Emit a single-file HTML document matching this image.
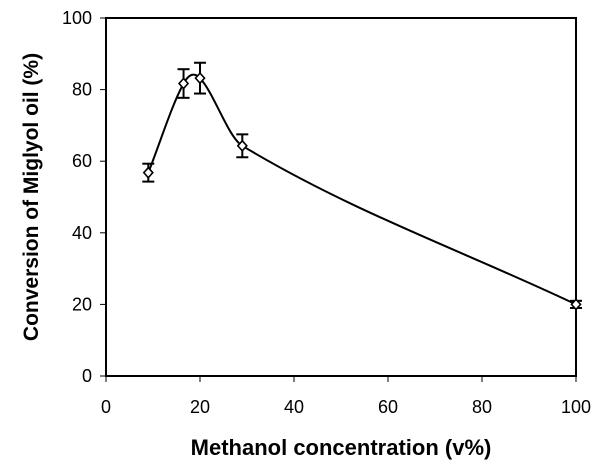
<!DOCTYPE html>
<html><head><meta charset="utf-8"><style>
html,body{margin:0;padding:0;background:#fff;}
svg{display:block;font-family:"Liberation Sans",Arial,sans-serif;}
</style></head><body>
<svg id="chart" width="602" height="476" viewBox="0 0 602 476" xmlns="http://www.w3.org/2000/svg">
<g id="axes"></g>
<g id="series"></g>
<text x="0" y="0" transform="translate(38,197) rotate(-90)" text-anchor="middle" font-size="21" font-weight="bold">Conversion of Miglyol oil (%)</text>
<text x="341" y="455" text-anchor="middle" font-size="22" font-weight="bold">Methanol concentration (v%)</text>
</svg>
<script>
const xValues = [9, 16.5, 20, 29, 100];
const yValues = [56.8, 81.7, 83.2, 64.3, 20];
const yErrors = [2.5, 4, 4.3, 3.2, 1];
const xTicks = [0, 20, 40, 60, 80, 100];
const yTicks = [0, 20, 40, 60, 80, 100];

const L = 106, R = 576, T = 18, B = 376;
const sx = v => L + (v - 0) / 100 * (R - L);
const sy = v => B - (v - 0) / 100 * (B - T);
const NS = "http://www.w3.org/2000/svg";
function mk(tag, attrs, parent) {
  const e = document.createElementNS(NS, tag);
  for (const k in attrs) e.setAttribute(k, attrs[k]);
  parent.appendChild(e);
  return e;
}
const axes = document.getElementById('axes');
const frame = mk('rect', {x: L, y: T, width: R - L, height: B - T, fill: 'none', stroke: '#000', 'stroke-width': 2}, axes);


xTicks.forEach(t => {
  const tk = mk('line', {x1: sx(t), x2: sx(t), y1: B, y2: B + 6, stroke: '#000', 'stroke-width': 1}, axes);
  
  
  const lb = mk('text', {x: sx(t), y: 413, 'text-anchor': 'middle', 'font-size': 18}, axes);
  
  
  lb.textContent = t;
});
yTicks.forEach(t => {
  const tk = mk('line', {x1: L - 6, x2: L, y1: sy(t), y2: sy(t), stroke: '#000', 'stroke-width': 1}, axes);
  
  
  const lb = mk('text', {x: 92, y: sy(t) + 6, 'text-anchor': 'end', 'font-size': 18}, axes);
  
  
  lb.textContent = t;
});
const ser = document.getElementById('series');
const n = xValues.length;
const slopes = xValues.map((x, i) => {
  const a = Math.max(0, i - 1), b = Math.min(n - 1, i + 1);
  return (yValues[b] - yValues[a]) / (xValues[b] - xValues[a]);
});
let d = 'M' + sx(xValues[0]) + ',' + sy(yValues[0]);
for (let i = 0; i < n - 1; i++) {
  const h = (xValues[i + 1] - xValues[i]) / 3;
  const c1x = xValues[i] + h, c1y = yValues[i] + slopes[i] * h;
  const c2x = xValues[i + 1] - h, c2y = yValues[i + 1] - slopes[i + 1] * h;
  d += ' C' + sx(c1x) + ',' + sy(c1y) + ' ' + sx(c2x) + ',' + sy(c2y) + ' ' + sx(xValues[i + 1]) + ',' + sy(yValues[i + 1]);
}
const line = mk('path', {d: d, fill: 'none', stroke: '#000', 'stroke-width': 2}, ser);


xValues.forEach((x, i) => {
  const cx = sx(x), cy = sy(yValues[i]);
  const yt = sy(yValues[i] + yErrors[i]), yb = sy(yValues[i] - yErrors[i]);
  const g = mk('g', {}, ser);
  
  
  mk('line', {x1: cx, x2: cx, y1: yt, y2: yb, stroke: '#000', 'stroke-width': 2}, g);
  mk('line', {x1: cx - 6, x2: cx + 6, y1: yt, y2: yt, stroke: '#000', 'stroke-width': 2}, g);
  mk('line', {x1: cx - 6, x2: cx + 6, y1: yb, y2: yb, stroke: '#000', 'stroke-width': 2}, g);
  const m = mk('path', {d: `M${cx},${cy - 5} L${cx + 4.5},${cy} L${cx},${cy + 5} L${cx - 4.5},${cy} Z`, fill: '#fff', stroke: '#000', 'stroke-width': 1.6}, ser);
  
  
});
</script>
</body></html>
